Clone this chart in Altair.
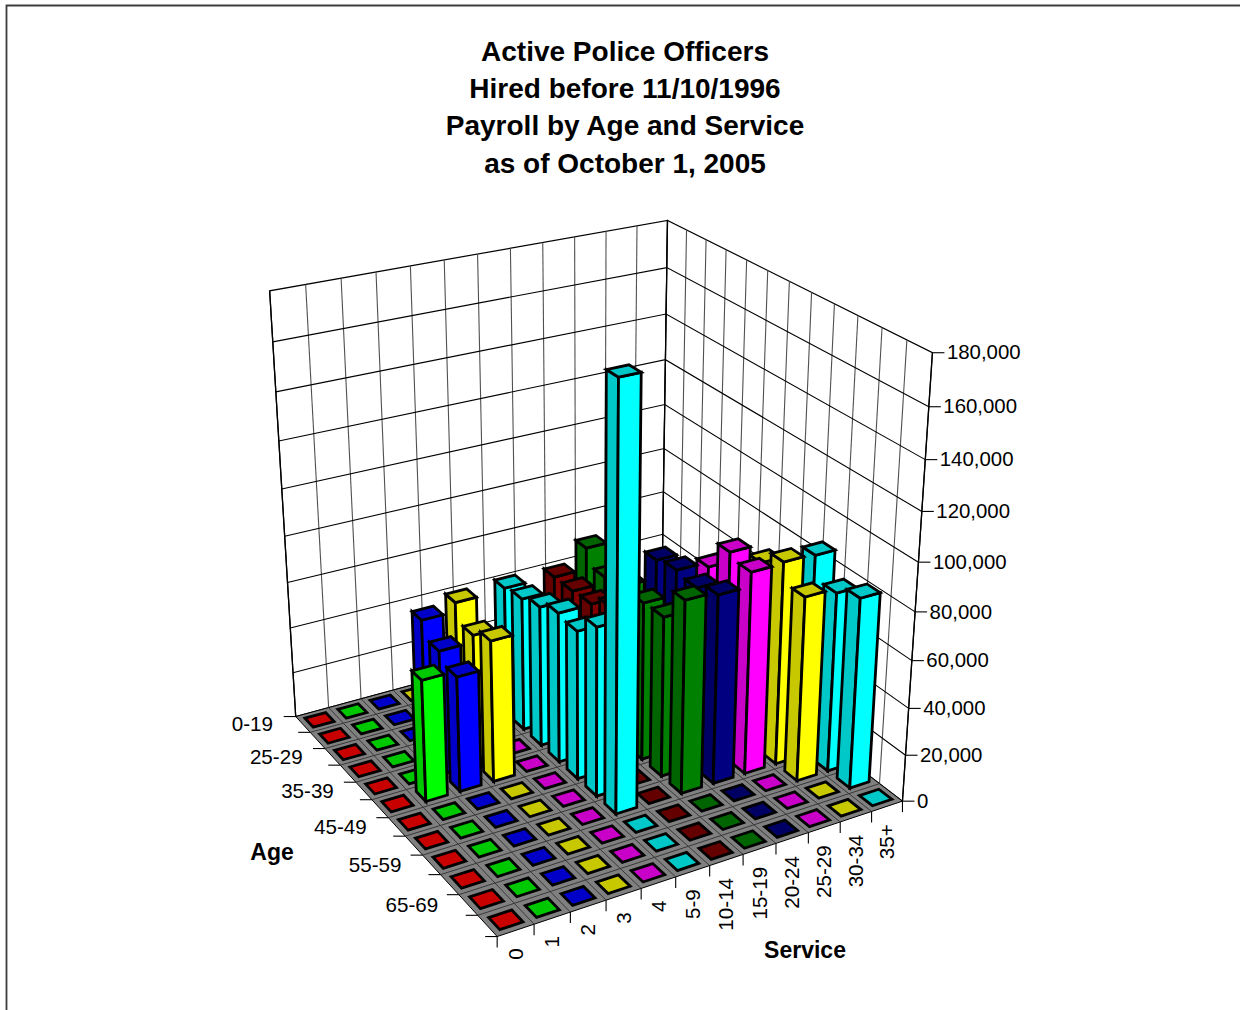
import altair as alt
import numpy as np

service_labels = ["0", "1", "2", "3", "4", "5-9", "10-14", "15-19", "20-24", "25-29", "30-34", "35+"]
age_labels = ["0-19", "", "25-29", "", "35-39", "", "45-49", "", "55-59", "", "65-69", ""]
value_ticks = [0, 20000, 40000, 60000, 80000, 100000, 120000, 140000, 160000, 180000]
title_lines = ["Active Police Officers", "Hired before 11/10/1996",
               "Payroll by Age and Service", "as of October 1, 2005"]

# Payroll by service column, one entry per age band (youngest first)
payroll_s0 = [0] * 12
payroll_s1 = [0, 0, 0, 0, 0, 51900, 0, 0, 0, 0, 0, 0]
payroll_s2 = [0, 0, 0, 59900, 53400, 49300, 0, 0, 0, 0, 0, 0]
payroll_s3 = [0, 0, 0, 63700, 56300, 60500, 0, 0, 0, 0, 0, 0]
payroll_s4 = [0] * 12
payroll_s5 = [0, 0, 56300, 57900, 60800, 64700, 63600, 71900, 174400, 0, 0, 0]
payroll_s6 = [0, 0, 0, 63800, 64000, 64800, 69900, 0, 0, 0, 0, 0]
payroll_s7 = [0, 0, 0, 72800, 66400, 68800, 68000, 68500, 81900, 0, 0, 0]
payroll_s8 = [0, 0, 0, 0, 0, 76300, 78200, 77000, 80400, 0, 0, 0]
payroll_s9 = [0, 0, 0, 0, 0, 0, 76000, 88300, 86200, 0, 0, 0]
payroll_s10 = [0, 0, 0, 0, 0, 0, 0, 80300, 86800, 78600, 0, 0]
payroll_s11 = [0, 0, 0, 0, 0, 0, 0, 0, 86100, 76600, 80800, 0]
payroll = [payroll_s0, payroll_s1, payroll_s2, payroll_s3, payroll_s4, payroll_s5,
           payroll_s6, payroll_s7, payroll_s8, payroll_s9, payroll_s10, payroll_s11]

# Face colours per service column: (lit front face, shaded side and top)
faces = [("#FF0000", "#C80000"), ("#00FF00", "#00C800"), ("#0000FF", "#0000C8"),
         ("#FFFF00", "#C8C800"), ("#FF00FF", "#C800C8"), ("#00FFFF", "#00C8C8"),
         ("#800000", "#640000"), ("#008000", "#006400"), ("#000080", "#000064"),
         ("#FF00FF", "#C800C8"), ("#FFFF00", "#C8C800"), ("#00FFFF", "#00C8C8")]

N = 12
ZMAX = 180000
BAR_U, BAR_V = 0.63, 0.57
BAR_LINE = 2.8

# Perspective camera for the unit box (u: service, v: age, z: payroll), solved from box corners
camera_fit = [((0, 0, 0), (296, 716)), ((0, 1, 0), (497, 937)), ((1, 1, 0), (903, 800.5)),
              ((1, 0, 0), (661, 618)), ((0, 0, 1), (269.5, 291)), ((1, 0, 1), (668, 220)),
              ((1, 1, 1), (932, 353))]
M, rhs = [], []
for (u, v, z), (px, py) in camera_fit:
    M.append([u, v, z, 1, 0, 0, 0, 0, -px * u, -px * v, -px * z])
    rhs.append(px)
    M.append([0, 0, 0, 0, u, v, z, 1, -py * u, -py * v, -py * z])
    rhs.append(py)
h = np.linalg.lstsq(np.array(M, float), np.array(rhs, float), rcond=None)[0]


def project(u, v, z=0.0):
    w = h[8] * u + h[9] * v + h[10] * z + 1
    return [float((h[0] * u + h[1] * v + h[2] * z + h[3]) / w),
            float((h[4] * u + h[5] * v + h[6] * z + h[7]) / w)]


def polygon(points, fill, stroke="#000000", width=1.0):
    ring = points + [points[0]]
    return {"type": "Feature", "geometry": {"type": "Polygon", "coordinates": [ring]},
            "properties": {"fill": fill, "stroke": stroke, "width": width}}


def path(points, stroke, width=1.0):
    return {"type": "Feature", "geometry": {"type": "LineString", "coordinates": points},
            "properties": {"fill": "transparent", "stroke": stroke, "width": width}}


features = []

# Chart frame
features.append(path([[6.5, 1012], [6.5, 5.5], [1242, 5.5]], "#3c3c3c", 1.8))

# Back walls and their grid
features.append(polygon([project(0, 0), project(1, 0), project(1, 0, 1), project(0, 0, 1)], "#FFFFFF", "#000000", 1.2))
features.append(polygon([project(1, 0), project(1, 1), project(1, 1, 1), project(1, 0, 1)], "#FFFFFF", "#000000", 1.2))
for i in range(1, N):
    features.append(path([project(i / N, 0), project(i / N, 0, 1)], "#505050", 1.1))
    features.append(path([project(1, i / N), project(1, i / N, 1)], "#505050", 1.1))
for t in value_ticks[1:-1]:
    z = t / ZMAX
    features.append(path([project(0, 0, z), project(1, 0, z), project(1, 1, z)], "#000000", 1.1))

# Floor and its grid
features.append(polygon([project(0, 0), project(1, 0), project(1, 1), project(0, 1)], "#808080", "#000000", 1))
for i in range(1, N):
    features.append(path([project(i / N, 0), project(i / N, 1)], "#383838", 1))
    features.append(path([project(0, i / N), project(1, i / N)], "#383838", 1))

# Axis lines and ticks
features.append(path([project(1, 1), project(1, 1, 1)], "#000000", 1.3))
features.append(path([project(0, 0), project(0, 0, 1)], "#000000", 1.3))
features.append(path([project(1, 0), project(1, 0, 1)], "#000000", 1.3))
for t in value_ticks:
    p = project(1, 1, t / ZMAX)
    features.append(path([p, [p[0] + 12, p[1]]], "#000000", 1.1))
for i in range(N + 1):
    p = project(i / N, 1)
    features.append(path([p, [p[0], p[1] + 11]], "#000000", 1.1))
    q = project(0, i / N)
    features.append(path([q, [q[0] - 12, q[1]]], "#000000", 1.1))

# Bars, far rows first and right to left inside each row
for r in range(N):
    for s in range(N - 1, -1, -1):
        value = payroll[s][r] / ZMAX
        u0, u1 = (s + 0.5 - BAR_U / 2) / N, (s + 0.5 + BAR_U / 2) / N
        v0, v1 = (r + 0.5 - BAR_V / 2) / N, (r + 0.5 + BAR_V / 2) / N
        lit, shade = faces[s]
        if value > 0:
            features.append(polygon([project(u0, v0), project(u0, v1), project(u0, v1, value), project(u0, v0, value)],
                                    shade, "#000000", BAR_LINE))
            features.append(polygon([project(u0, v1), project(u1, v1), project(u1, v1, value), project(u0, v1, value)],
                                    lit, "#000000", BAR_LINE))
        features.append(polygon([project(u0, v0, value), project(u1, v0, value), project(u1, v1, value), project(u0, v1, value)],
                                shade, "#000000", BAR_LINE))

text_rows = []
for i, line in enumerate(title_lines):
    text_rows.append({"x": 625, "y": 53 + i * 37.2, "t": line, "size": 28, "weight": "bold", "align": "center"})
for t in value_ticks:
    p = project(1, 1, t / ZMAX)
    text_rows.append({"x": p[0] + 14.5, "y": p[1] + 0.7, "t": f"{t:,}", "size": 20.4, "weight": "normal", "align": "left"})
for i, lab in enumerate(age_labels):
    if lab:
        p = project(0, (i + 0.5) / N)
        text_rows.append({"x": p[0] - 30, "y": p[1] + 1, "t": lab, "size": 20.6, "weight": "normal", "align": "right"})
text_rows.append({"x": 272, "y": 853, "t": "Age", "size": 23, "weight": "bold", "align": "center"})
text_rows.append({"x": 805, "y": 951, "t": "Service", "size": 23, "weight": "bold", "align": "center"})
service_rows = []
for i, lab in enumerate(service_labels):
    p = project((i + 0.5) / N, 1)
    service_rows.append({"x": p[0] + 1, "y": p[1] + 18, "t": lab})

shapes = alt.Chart(alt.Data(values=features)).mark_geoshape(strokeJoin="miter", strokeMiterLimit=3).encode(
    fill=alt.Fill("properties.fill:N", scale=None),
    stroke=alt.Stroke("properties.stroke:N", scale=None),
    strokeWidth=alt.StrokeWidth("properties.width:Q", scale=None),
).project(type="identity", scale=1, translate=[0, 0])


def text_layer(rows, weight, align):
    return alt.Chart(alt.Data(values=rows)).mark_text(
        font="Liberation Sans", fontWeight=weight, align=align, baseline="middle", color="#000000"
    ).encode(
        x=alt.X("x:Q", scale=None), y=alt.Y("y:Q", scale=None), text="t:N",
        size=alt.Size("size:Q", scale=None),
    )


layers = [shapes]
for weight in ["bold", "normal"]:
    for align in ["left", "center", "right"]:
        subset = [r for r in text_rows if r["weight"] == weight and r["align"] == align]
        if subset:
            layers.append(text_layer(subset, weight, align))
layers.append(
    alt.Chart(alt.Data(values=service_rows)).mark_text(
        font="Liberation Sans", fontSize=20.6, angle=270, align="right", baseline="middle", color="#000000"
    ).encode(x=alt.X("x:Q", scale=None), y=alt.Y("y:Q", scale=None), text="t:N")
)

chart = alt.layer(*layers).properties(
    width=1240, height=1010, padding=0, autosize="none", background="#FFFFFF"
).configure_view(stroke=None)

chart.save("out.html", embed_options={"renderer": "svg", "actions": False})
